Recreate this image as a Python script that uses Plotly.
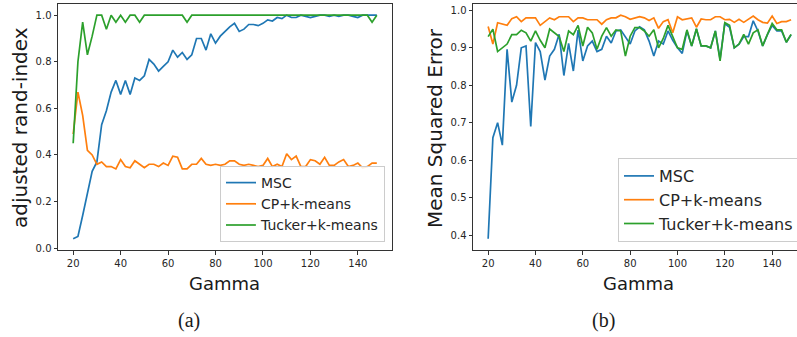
import plotly.graph_objects as go

gamma = [20, 22, 24, 26, 28, 30, 32, 34, 36, 38, 40, 42, 44, 46, 48, 50, 52, 54, 56, 58,
         60, 62, 64, 66, 68, 70, 72, 74, 76, 78, 80, 82, 84, 86, 88, 90, 92, 94, 96, 98,
         100, 102, 104, 106, 108, 110, 112, 114, 116, 118, 120, 122, 124, 126, 128, 130,
         132, 134, 136, 138, 140, 142, 144, 146, 148]

# (a) adjusted rand-index
msc_ari = [0.04, 0.05, 0.14, 0.24, 0.33, 0.37, 0.53, 0.59, 0.67, 0.72,
           0.66, 0.72, 0.66, 0.73, 0.72, 0.74, 0.81, 0.79, 0.76, 0.78,
           0.80, 0.85, 0.82, 0.84, 0.81, 0.83, 0.90, 0.90, 0.85, 0.92,
           0.88, 0.91, 0.93, 0.95, 0.965, 0.93, 0.94, 0.96, 0.96, 0.955,
           0.965, 0.98, 0.975, 0.99, 0.985, 1.0, 0.99, 0.99, 1.0, 0.995,
           0.99, 0.995, 1.0, 1.0, 0.995, 1.0, 0.995, 1.0, 1.0, 0.995,
           0.99, 1.0, 1.0, 1.0, 1.0]
cp_ari = [0.49, 0.67, 0.57, 0.42, 0.40, 0.36, 0.37, 0.35, 0.35, 0.34,
          0.38, 0.35, 0.345, 0.375, 0.36, 0.345, 0.36, 0.36, 0.35, 0.365,
          0.355, 0.395, 0.39, 0.34, 0.34, 0.36, 0.36, 0.385, 0.36, 0.355,
          0.36, 0.355, 0.36, 0.375, 0.375, 0.36, 0.355, 0.36, 0.355, 0.35,
          0.355, 0.385, 0.35, 0.36, 0.35, 0.405, 0.38, 0.395, 0.35, 0.35,
          0.38, 0.375, 0.36, 0.39, 0.355, 0.355, 0.37, 0.38, 0.35, 0.355,
          0.365, 0.345, 0.35, 0.365, 0.365]
tucker_ari = [0.45, 0.80, 0.97, 0.83, 0.91, 1.0, 1.0, 0.94, 1.0, 0.97,
              1.0, 0.97, 1.0, 1.0, 0.97, 1.0, 1.0, 1.0, 1.0, 1.0,
              1.0, 1.0, 1.0, 1.0, 0.97, 1.0, 1.0, 1.0, 1.0, 1.0,
              1.0, 1.0, 1.0, 1.0, 1.0, 1.0, 1.0, 1.0, 1.0, 1.0,
              1.0, 1.0, 1.0, 1.0, 1.0, 1.0, 1.0, 1.0, 1.0, 1.0,
              1.0, 1.0, 1.0, 1.0, 1.0, 1.0, 1.0, 1.0, 1.0, 1.0,
              1.0, 1.0, 1.0, 0.97, 1.0]

# (b) mean squared error
msc_mse = [0.39, 0.66, 0.70, 0.64, 0.896, 0.755, 0.80, 0.90, 0.905, 0.69,
           0.914, 0.89, 0.814, 0.878, 0.896, 0.936, 0.826, 0.912, 0.838, 0.947,
           0.865, 0.905, 0.918, 0.89, 0.896, 0.931, 0.913, 0.945, 0.948, 0.93,
           0.91, 0.945, 0.956, 0.948, 0.918, 0.878, 0.918, 0.91, 0.945, 0.92,
           0.90, 0.885, 0.945, 0.905, 0.95, 0.905, 0.905, 0.90, 0.945, 0.87,
           0.965, 0.955, 0.90, 0.91, 0.93, 0.93, 0.972, 0.945, 0.905, 0.935,
           0.96, 0.945, 0.945, 0.915, 0.935]
cp_mse = [0.957, 0.91, 0.967, 0.963, 0.96, 0.978, 0.983, 0.97, 0.98, 0.98,
          0.98, 0.96, 0.97, 0.98, 0.975, 0.983, 0.983, 0.983, 0.97, 0.98,
          0.98, 0.975, 0.975, 0.975, 0.963, 0.975, 0.98, 0.98, 0.987, 0.983,
          0.976, 0.98, 0.983, 0.98, 0.973, 0.98, 0.952, 0.97, 0.975, 0.94,
          0.983, 0.975, 0.978, 0.98, 0.955, 0.977, 0.975, 0.975, 0.983, 0.983,
          0.975, 0.976, 0.968, 0.976, 0.968, 0.976, 0.985, 0.975, 0.968, 0.966,
          0.985, 0.965, 0.97, 0.97, 0.975]
tucker_mse = [0.93, 0.95, 0.89, 0.90, 0.91, 0.935, 0.935, 0.947, 0.94, 0.918,
              0.945, 0.92, 0.90, 0.95, 0.94, 0.93, 0.89, 0.945, 0.935, 0.96,
              0.905, 0.955, 0.94, 0.896, 0.931, 0.954, 0.931, 0.948, 0.945, 0.878,
              0.931, 0.954, 0.954, 0.945, 0.931, 0.948, 0.90, 0.925, 0.96, 0.931,
              0.90, 0.896, 0.948, 0.905, 0.951, 0.905, 0.905, 0.90, 0.945, 0.865,
              0.967, 0.96, 0.90, 0.91, 0.936, 0.91, 0.94, 0.948, 0.905, 0.936,
              0.965, 0.948, 0.948, 0.915, 0.936]

series_names = ["MSC", "CP+k-means", "Tucker+k-means"]
colors = ["#1f77b4", "#ff7f0e", "#2ca02c"]
x_ticks = [20, 40, 60, 80, 100, 120, 140]
y_ticks_a = [0.0, 0.2, 0.4, 0.6, 0.8, 1.0]
y_ticks_b = [0.4, 0.5, 0.6, 0.7, 0.8, 0.9, 1.0]

W, H = 797, 337
fig = go.Figure()

for vals, name, col in zip([msc_ari, cp_ari, tucker_ari], series_names, colors):
    fig.add_trace(go.Scatter(x=gamma, y=vals, mode="lines", name=name,
                             line=dict(color=col, width=1.7),
                             xaxis="x", yaxis="y", legend="legend"))
for vals, name, col in zip([msc_mse, cp_mse, tucker_mse], series_names, colors):
    fig.add_trace(go.Scatter(x=gamma, y=vals, mode="lines", name=name,
                             line=dict(color=col, width=1.7),
                             xaxis="x2", yaxis="y2", legend="legend2"))

ydom = [1 - 250 / H, 1 - 4 / H]
tickfont = dict(family="DejaVu Sans", size=10, color="#262626")
common_axis = dict(showgrid=False, zeroline=False, ticks="outside", ticklen=3.5,
                   tickwidth=1, tickcolor="#333", linecolor="#333", linewidth=1,
                   showline=True, tickfont=tickfont, automargin=False)

fig.update_layout(
    width=W, height=H, margin=dict(l=0, r=0, t=0, b=0, autoexpand=False),
    paper_bgcolor="white", plot_bgcolor="white",
    xaxis=dict(domain=[58 / W, 392 / W], range=[13.6, 154.4], tickvals=x_ticks,
               mirror=True, anchor="y", **common_axis),
    yaxis=dict(domain=ydom, range=[-0.008, 1.048], tickvals=y_ticks_a,
               tickformat=".1f", mirror=True, anchor="x", **common_axis),
    xaxis2=dict(domain=[473 / W, 1.0], range=[13.6, 150.5], tickvals=x_ticks,
                mirror=True, anchor="y2", **common_axis),
    yaxis2=dict(domain=ydom, range=[0.36, 1.017], tickvals=y_ticks_b,
                tickformat=".1f", mirror=False, anchor="x2", **common_axis),
    legend=dict(x=385 / W, y=1 - 242 / H, xanchor="right", yanchor="bottom",
                bgcolor="rgba(255,255,255,0.85)", bordercolor="#cccccc", borderwidth=1,
                font=dict(family="DejaVu Sans", size=14, color="#262626"),
                itemwidth=30, tracegroupgap=0),
    legend2=dict(x=618 / W, y=1 - 242 / H, xanchor="left", yanchor="bottom",
                 bgcolor="rgba(255,255,255,0.85)", bordercolor="#cccccc", borderwidth=1,
                 font=dict(family="DejaVu Sans", size=16, color="#262626"),
                 itemwidth=30, tracegroupgap=0),
    showlegend=True,
)

title_font = dict(family="DejaVu Sans", size=20, color="#1a1a1a")
fig.add_annotation(text="adjusted rand-index", x=20 / W, y=1 - 128 / H, xref="paper",
                   yref="paper", textangle=-90, showarrow=False, font=title_font,
                   xanchor="center", yanchor="middle")
fig.add_annotation(text="Mean Squared Error", x=435 / W, y=1 - 128 / H, xref="paper",
                   yref="paper", textangle=-90, showarrow=False, font=title_font,
                   xanchor="center", yanchor="middle")
gam_font = dict(family="DejaVu Sans", size=18, color="#1a1a1a")
fig.add_annotation(text="Gamma", x=224 / W, y=1 - 283 / H, xref="paper", yref="paper",
                   showarrow=False, font=gam_font, xanchor="center", yanchor="middle")
fig.add_annotation(text="Gamma", x=638 / W, y=1 - 283 / H, xref="paper", yref="paper",
                   showarrow=False, font=gam_font, xanchor="center", yanchor="middle")
cap_font = dict(family="Liberation Serif", size=20, color="#1a1a1a")
fig.add_annotation(text="(a)", x=189 / W, y=1 - 320 / H, xref="paper", yref="paper",
                   showarrow=False, font=cap_font, xanchor="center", yanchor="middle")
fig.add_annotation(text="(b)", x=603 / W, y=1 - 320 / H, xref="paper", yref="paper",
                   showarrow=False, font=cap_font, xanchor="center", yanchor="middle")

fig.write_html("out.html", config={"displayModeBar": False},
               post_script="document.body.style.margin='0';document.body.style.overflow='hidden';")
